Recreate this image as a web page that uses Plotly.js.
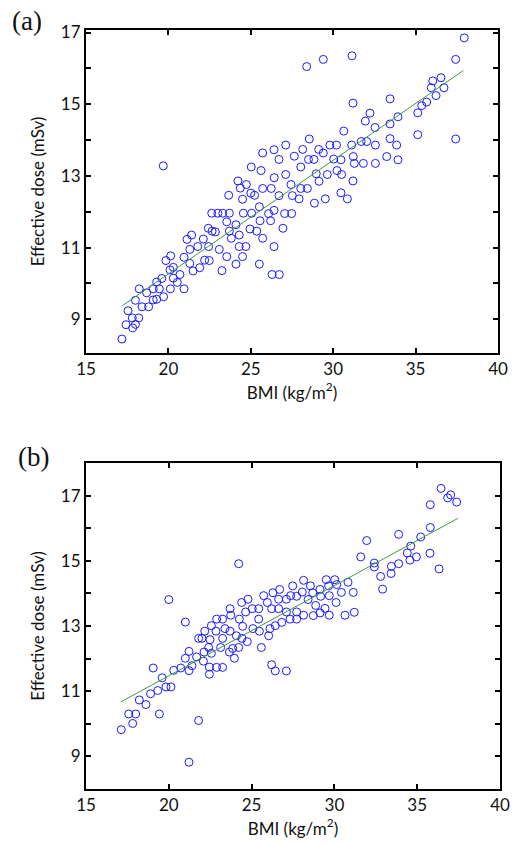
<!DOCTYPE html>
<html>
<head>
<meta charset="utf-8">
<script src="https://cdn.plot.ly/plotly-3.0.1.min.js"></script>
<style>html,body{margin:0;padding:0;background:#fff;}#chart{width:514px;height:845px;}</style>
</head>
<body>
<div id="chart"></div>
<script>
// Panel (a) data: BMI vs effective dose
const bmiA = [17.18,17.43,17.83,18.0,17.55,17.81,18.2,18.0,18.4,18.8,18.23,18.68,19.08,19.29,19.08,19.45,19.29,19.6,19.71,20.12,20.95,20.1,20.3,20.3,20.54,20.7,19.85,20.14,20.95,21.3,21.5,21.9,22.2,22.48,21.3,21.78,21.13,21.41,22.12,22.42,22.65,22.44,23.09,23.25,23.54,24.1,24.5,24.3,24.7,23.82,24.3,24.1,23.7,23.54,22.63,23.0,23.3,23.7,24.55,25.05,24.5,25.0,25.23,23.66,22.85,24.95,25.36,25.52,25.52,
  31.2,30.64,28.55,27.12,26.41,25.72,28.15,29.12,29.4,29.8,30.2,26.71,27.64,28.5,28.83,28.03,30.03,30.47,31.22,31.28,25.03,25.62,27.12,26.42,28.97,29.64,30.23,30.51,31.2,29.14,24.22,24.73,24.36,25.72,26.24,27.44,28.03,28.43,26.71,27.52,27.93,28.86,29.52,30.47,30.86,26.41,26.08,27.05,27.48,25.56,26.2,26.95,25.72,26.41,26.29,26.73,
  37.95,29.4,31.14,37.43,36.54,36.04,35.95,36.72,36.24,35.67,35.37,35.13,35.13,37.43,33.45,32.23,31.95,33.93,33.45,32.54,33.45,33.85,31.7,32.03,32.56,33.25,33.93,31.83,32.56,31.12,
  19.69,28.39];
const doseA = [8.45,8.85,8.76,8.86,9.24,9.04,9.04,9.53,9.35,9.35,9.85,9.74,9.54,9.56,9.85,9.85,10.04,10.14,9.63,9.85,9.85,10.38,10.45,10.15,10.03,10.25,10.64,10.77,10.73,10.56,10.35,10.44,10.65,10.64,10.95,11.03,11.23,11.35,11.24,11.54,11.46,11.03,10.95,10.36,10.75,10.54,10.75,11.03,11.03,11.26,11.35,11.64,11.46,11.72,11.96,11.96,11.96,11.96,11.96,11.96,12.35,12.52,12.46,12.46,11.44,11.52,11.46,12.14,10.54,
  15.03,14.25,14.03,13.86,13.73,13.64,13.74,13.74,13.64,13.86,13.86,13.46,13.55,13.46,13.46,13.25,13.47,13.45,13.54,13.35,13.25,13.15,13.04,12.95,13.06,13.04,13.15,13.04,12.86,12.85,12.86,12.76,12.66,12.65,12.65,12.76,12.65,12.65,12.45,12.45,12.36,12.24,12.36,12.53,12.36,12.04,11.95,11.95,11.95,11.75,11.75,11.54,11.26,11.03,10.25,10.25,
  16.85,16.25,16.35,16.25,15.74,15.65,15.46,15.46,15.24,15.06,14.96,14.76,14.15,14.03,15.15,14.75,14.53,14.65,14.45,14.35,14.04,13.86,13.96,13.96,13.86,13.54,13.45,13.35,13.35,13.86,
  13.28,16.05];
const fitAX = [17.2, 37.9];
const fitAY = [9.38, 15.94];

// Panel (b) data
const bmiB = [17.13,17.82,17.58,18.0,19.43,18.22,18.62,18.9,19.33,19.83,20.13,19.6,19.06,20.3,20.72,21.22,21.0,21.22,21.8,21.22,21.0,20.0,21.4,
  24.22,28.14,27.48,26.69,26.29,25.73,24.78,24.40,25.95,26.63,27.10,27.36,27.72,28.06,28.55,28.69,29.13,29.51,30.02,29.65,30.14,29.17,29.69,30.1,28.41,28.87,29.43,29.13,29.69,28.73,28.14,27.72,27.72,27.32,27.10,26.82,26.63,26.21,25.43,25.04,24.64,24.26,23.70,23.74,23.25,22.89,22.57,22.85,22.17,21.80,22.0,22.49,23.39,23.70,23.25,24.08,24.46,25.08,25.43,25.47,26.11,26.43,26.03,24.74,24.42,24.22,23.86,25.59,22.41,21.68,22.13,22.57,23.13,23.66,23.96,22.09,22.45,22.89,23.25,22.45,26.21,26.43,27.10,
  36.44,37.02,36.84,37.38,35.79,35.79,33.88,35.21,31.95,34.61,34.40,35.77,34.95,34.56,31.59,32.41,32.41,33.44,33.88,33.42,32.79,36.32,32.91,30.82,30.42,31.14,30.64,31.2];
const doseB = [9.82,10.01,10.3,10.3,10.3,10.73,10.59,10.92,11.02,11.13,11.13,11.41,11.71,11.64,11.71,11.63,12.01,12.22,10.1,8.82,13.12,13.81,11.78,
  14.91,14.40,14.23,14.12,14.02,13.93,13.82,13.72,13.72,13.82,13.82,13.93,13.91,14.04,14.23,14.02,14.12,14.42,14.42,14.23,14.27,13.91,13.93,13.72,13.81,13.63,13.54,13.40,13.33,13.32,13.33,13.21,13.43,13.21,13.43,13.11,13.53,13.53,13.53,13.53,13.43,13.21,13.53,13.33,13.21,13.21,13.01,12.84,12.84,12.62,12.62,12.58,12.92,12.84,12.62,12.70,12.99,12.92,13.21,12.84,12.92,13.01,12.70,12.52,12.62,12.34,12.31,12.34,12.34,12.05,12.20,12.16,12.34,12.20,12.01,11.92,11.74,11.73,11.73,11.52,11.81,11.62,11.62,
  17.22,17.02,16.93,16.80,16.72,16.02,15.81,15.73,15.62,15.45,15.24,15.23,15.12,15.02,15.12,14.93,14.81,14.83,14.91,14.61,14.52,14.75,14.13,14.34,14.03,14.03,13.33,13.42];
const fitBX = [17.1, 37.45];
const fitBY = [10.67, 16.3];

const xTicks = [15,20,25,30,35,40];
const yTickLabels = [9,11,13,15,17];

const mk = {symbol:'circle-open', size:8, color:'#1a1aff', line:{width:1, color:'#1a1aff'}};
const lineStyle = {color:'#3c9a3c', width:1};

const traces = [
  {x:bmiA, y:doseA, type:'scatter', mode:'markers', marker:mk, xaxis:'x', yaxis:'y', hoverinfo:'none'},
  {x:fitAX, y:fitAY, type:'scatter', mode:'lines', line:lineStyle, xaxis:'x', yaxis:'y', hoverinfo:'none'},
  {x:bmiB, y:doseB, type:'scatter', mode:'markers', marker:mk, xaxis:'x2', yaxis:'y2', hoverinfo:'none'},
  {x:fitBX, y:fitBY, type:'scatter', mode:'lines', line:lineStyle, xaxis:'x2', yaxis:'y2', hoverinfo:'none'}
];

const tickFont = {family:'Lato, "Open Sans", sans-serif', size:17, color:'#111'};
const titleFont = {family:'Lato, "Open Sans", sans-serif', size:17, color:'#111'};

function xAx(domain, anchor){
  return {domain:domain, anchor:anchor, range:[15,40], tickvals:xTicks, ticktext:xTicks.map(String),
    ticks:'inside', ticklen:5, tickwidth:2, tickcolor:'#000', showline:true, linecolor:'#000', linewidth:2,
    mirror:'ticks', showgrid:false, zeroline:false, tickfont:tickFont,
    title:{text:'BMI (kg/m<sup>2</sup>)', font:titleFont, standoff:6}};
}
function yAx(domain, anchor, range){
  return {domain:domain, anchor:anchor, range:range, tickvals:yTickLabels, ticktext:yTickLabels.map(String),
    ticks:'inside', ticklen:5, tickwidth:2, tickcolor:'#000', showline:true, linecolor:'#000', linewidth:2,
    minor:{dtick:1, tick0:8, ticks:'inside', ticklen:5, tickwidth:2, tickcolor:'#000', showgrid:false},
    mirror:'ticks', showgrid:false, zeroline:false, tickfont:tickFont,
    title:{text:'Effective dose (mSv)', font:titleFont, standoff:12}};
}

const layout = {
  width:514, height:845, margin:{l:0,r:0,t:0,b:0}, showlegend:false,
  paper_bgcolor:'#fff', plot_bgcolor:'#fff',
  xaxis: xAx([0.1673,0.9689],'y'),
  yaxis: yAx([0.5822,0.9645],'x',[8.06,17.07]),
  xaxis2: xAx([0.1673,0.9728],'y2'),
  yaxis2: yAx([0.0663,0.4521],'x2',[8.0,18.0]),
  annotations:[
    {text:'(a)', xref:'paper', yref:'paper', x:10/514, y:1-21/845, xanchor:'left', yanchor:'middle', showarrow:false,
     font:{family:'"Liberation Serif", "DejaVu Serif", serif', size:27, color:'#111'}},
    {text:'(b)', xref:'paper', yref:'paper', x:16/514, y:1-457/845, xanchor:'left', yanchor:'middle', showarrow:false,
     font:{family:'"Liberation Serif", "DejaVu Serif", serif', size:27, color:'#111'}}
  ]
};

Plotly.newPlot('chart', traces, layout, {staticPlot:true, displayModeBar:false});
</script>
</body>
</html>
